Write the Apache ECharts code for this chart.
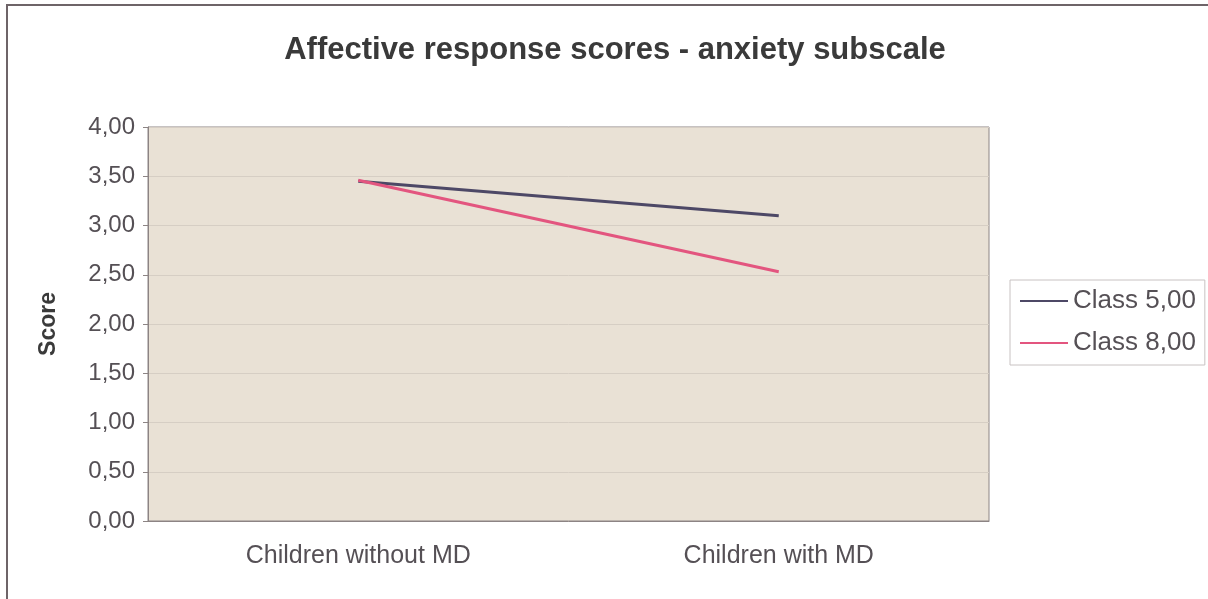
<!DOCTYPE html>
<html>
<head>
<meta charset="utf-8">
<script src="https://cdn.jsdelivr.net/npm/echarts@6/dist/echarts.min.js"></script>
<style>
  html, body { margin: 0; padding: 0; background: #ffffff; }
  #chart { width: 1208px; height: 599px; }
</style>
</head>
<body>
<div id="chart"></div>
<script>
// Groups on the x axis
const categories = ['Children without MD', 'Children with MD'];
// Mean anxiety subscale scores per class
const class5 = [3.45, 3.10];
const class8 = [3.46, 2.53];
const seriesNames = ['Class 5,00', 'Class 8,00'];

const fmt = v => v.toFixed(2).replace('.', ',');
const FONT = '"Liberation Sans", Arial, sans-serif';

const chart = echarts.init(document.getElementById('chart'), null, { renderer: 'canvas' });

chart.setOption({
  backgroundColor: '#ffffff',
  animation: false,
  title: {
    text: 'Affective response scores - anxiety subscale',
    left: 610,
    textAlign: 'center',
    top: 30,
    textStyle: { fontFamily: FONT, fontSize: 31, fontWeight: 'bold', color: '#3a3a3a' }
  },
  graphic: [
    {
      type: 'rect',
      shape: { x: 7, y: 5, width: 1220, height: 620 },
      style: { fill: 'none', stroke: '#6e6468', lineWidth: 2 },
      silent: true
    }
  ],
  legend: {
    orient: 'vertical',
    left: 1010,
    top: 280,
    padding: [6, 9, 7, 10],
    itemGap: 12,
    itemWidth: 48,
    itemHeight: 14,
    backgroundColor: '#ffffff',
    borderColor: '#c8c2c2',
    borderWidth: 1,
    icon: 'path://M0,7L48,7L48,9L0,9Z',
    textStyle: { fontFamily: FONT, fontSize: 26, lineHeight: 30, color: '#555055' },
    data: seriesNames
  },
  grid: {
    left: 148,
    top: 127,
    right: 219,
    bottom: 78,
    show: true,
    backgroundColor: '#e9e1d5',
    borderColor: '#8c8484',
    borderWidth: 1
  },
  xAxis: {
    type: 'category',
    data: categories,
    boundaryGap: true,
    axisLine: { lineStyle: { color: '#8c8484', width: 1 } },
    axisTick: { show: false },
    axisLabel: { fontFamily: FONT, fontSize: 25, color: '#555055', margin: 23 }
  },
  yAxis: {
    type: 'value',
    name: 'Score',
    nameLocation: 'middle',
    nameGap: 88,
    nameRotate: 90,
    nameTextStyle: { fontFamily: FONT, fontSize: 23, fontWeight: 'bold', color: '#3a3a3a' },
    min: 0,
    max: 4,
    interval: 0.5,
    axisLine: { show: true, lineStyle: { color: '#8c8484', width: 1 } },
    axisTick: { show: true, length: 5, lineStyle: { color: '#8c8484' } },
    axisLabel: { fontFamily: FONT, fontSize: 24, color: '#555055', margin: 13, formatter: fmt },
    splitLine: { show: true, lineStyle: { color: '#d6cec4', width: 1 } }
  },
  series: [
    {
      name: seriesNames[0],
      type: 'line',
      data: class5,
      symbol: 'none',
      lineStyle: { color: '#4d4866', width: 3 },
      itemStyle: { color: '#4d4866' }
    },
    {
      name: seriesNames[1],
      type: 'line',
      data: class8,
      symbol: 'none',
      lineStyle: { color: '#e3557f', width: 3 },
      itemStyle: { color: '#e3557f' }
    }
  ]
});
</script>
</body>
</html>
